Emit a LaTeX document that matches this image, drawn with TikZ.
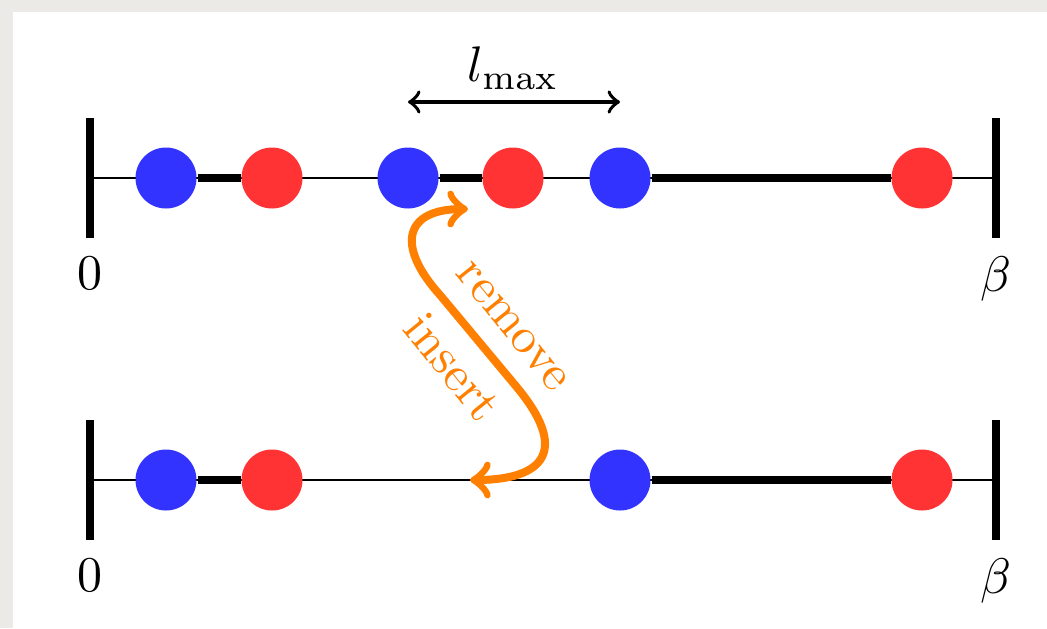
\documentclass[tikz,border=0pt]{standalone}
\usepackage{amsmath}
\definecolor{bgray}{HTML}{EBEAE6}
\definecolor{dotblue}{HTML}{3333FF}
\definecolor{dotred}{HTML}{FF3333}
\definecolor{arrorange}{HTML}{FF8000}
\begin{document}
\begin{tikzpicture}[x=0.2pt,y=-0.2pt,
  dot/.style={circle,inner sep=0pt,minimum size=12.2pt},
  bdot/.style={dot,fill=dotblue},
  rdot/.style={dot,fill=dotred},
  thinline/.style={line width=0.4pt},
  thickline/.style={line width=1.6pt},
  tickline/.style={line width=1.5pt},
  swap/.style={arrorange,line width=1.6pt,<->},
  swaplab/.style={text=arrorange,rotate=-51,inner sep=0pt}]
\useasboundingbox (0,0) rectangle (1047,628);
\fill[bgray] (0,0) rectangle (1047,628);
\fill[white] (13,12) rectangle (1047,628);

% ---------- top row ----------
\coordinate (tL) at (90,178);
\coordinate (tR) at (996,178);
\coordinate (tLa) at (90,118);
\coordinate (tLb) at (90,238);
\coordinate (tRa) at (996,118);
\coordinate (tRb) at (996,238);
\draw[thinline] (tL) -- (tR);
\draw[tickline] (tLa) -- (tLb);
\draw[tickline] (tRa) -- (tRb);
\node[bdot] (tb1) at (166,178) {};
\node[rdot] (tr1) at (272,178) {};
\node[bdot] (tb2) at (408,178) {};
\node[rdot] (tr2) at (513,178) {};
\node[bdot] (tb3) at (620,178) {};
\node[rdot] (tr3) at (922,178) {};
\draw[thickline] (tb1) -- (tr1);
\draw[thickline] (tb2) -- (tr2);
\draw[thickline] (tb3) -- (tr3);
\node (t0) at (90,273) {$0$};
\node (tbeta) at (996,279) {$\beta$};

% ---------- l_max ----------
\coordinate (la) at (408,102);
\coordinate (lb) at (620,102);
\draw[line width=0.75pt,<->] (la) -- (lb);
\node (lmax) at (513,68) {$l_{\max}$};

% ---------- bottom row ----------
\coordinate (bL) at (90,480);
\coordinate (bR) at (996,480);
\coordinate (bLa) at (90,420);
\coordinate (bLb) at (90,540);
\coordinate (bRa) at (996,420);
\coordinate (bRb) at (996,540);
\draw[thinline] (bL) -- (bR);
\draw[tickline] (bLa) -- (bLb);
\draw[tickline] (bRa) -- (bRb);
\node[bdot] (bb1) at (166,480) {};
\node[rdot] (br1) at (272,480) {};
\node[bdot] (bb3) at (620,480) {};
\node[rdot] (br3) at (922,480) {};
\draw[thickline] (bb1) -- (br1);
\draw[thickline] (bb3) -- (br3);
\node (b0) at (90,575) {$0$};
\node (bbeta) at (996,581) {$\beta$};

% ---------- remove / insert ----------
\coordinate (sTop) at (468,209);
\coordinate (sA) at (440,295);
\coordinate (sB) at (515,385);
\coordinate (sBot) at (470,480);
\draw[swap] (sTop) .. controls (405,209) and (395,245) .. (sA) -- (sB)
  .. controls (570,450) and (545,480) .. (sBot);
\node[swaplab] (rem) at (512,327) {remove};
\node[swaplab] (ins) at (453,367) {insert};
\end{tikzpicture}
\end{document}
